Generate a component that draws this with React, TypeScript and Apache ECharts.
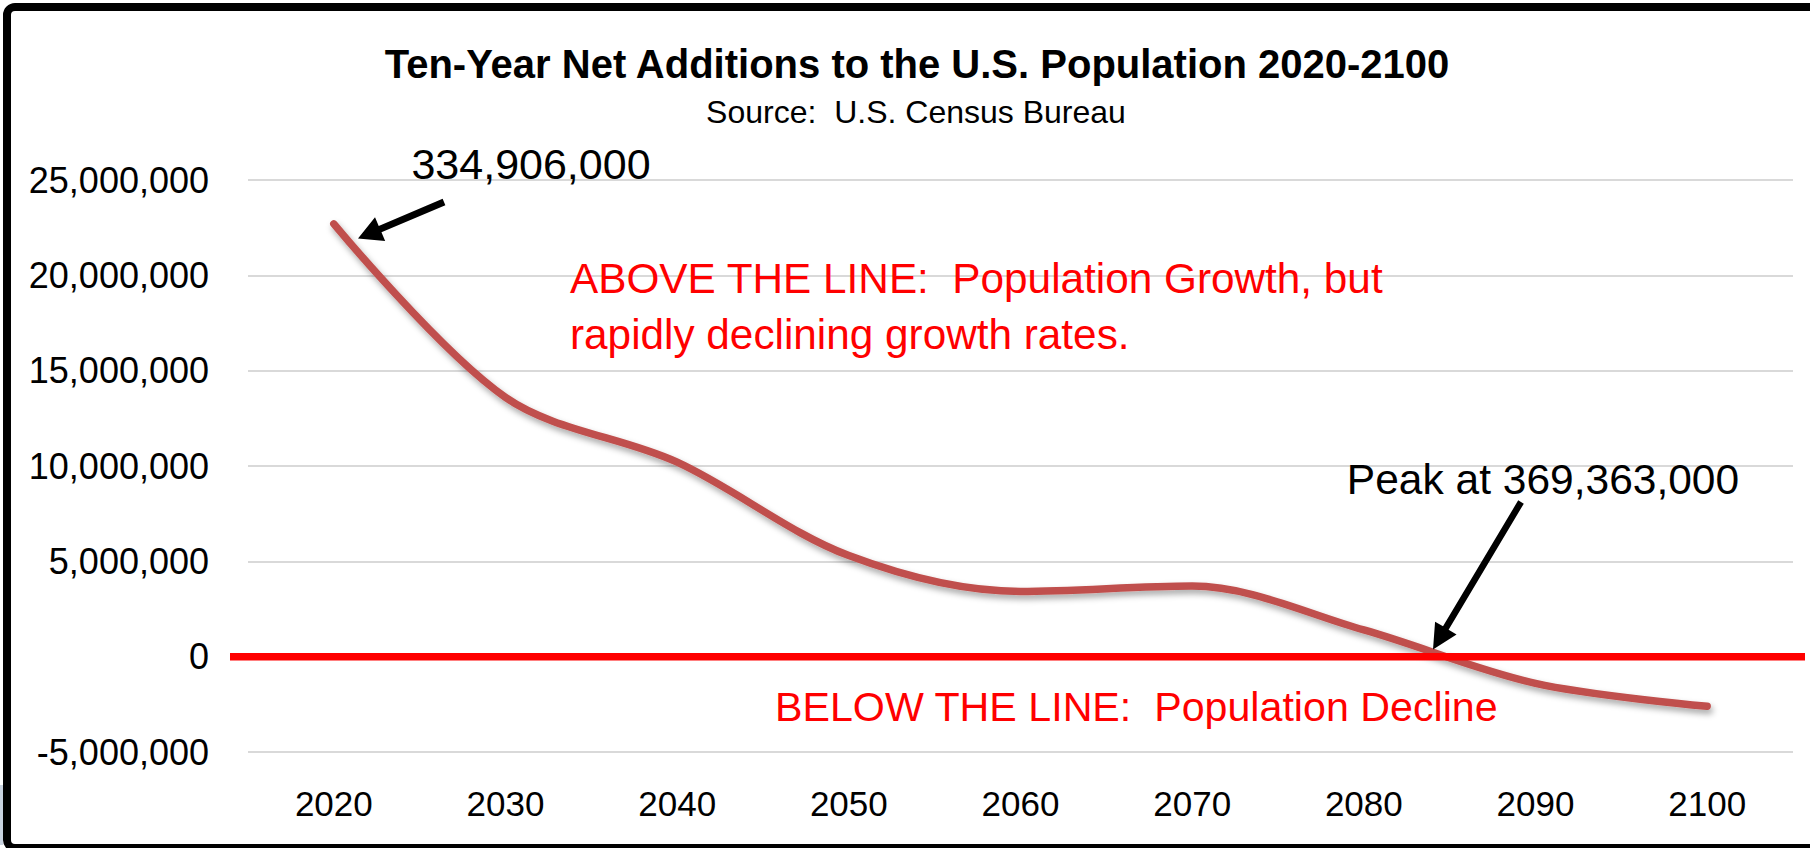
import React, { useEffect, useRef } from "react";
import * as echarts from "echarts";

// ---- Data ----
const years = ["2020", "2030", "2040", "2050", "2060", "2070", "2080", "2090", "2100"];
const netAdditions = [22700000, 13600000, 10200000, 5300000, 3420000, 3700000, 1400000, -1400000, -2600000];
const yMin = -5000000;
const yMax = 25000000;
const yInterval = 5000000;

const titleText = "Ten-Year Net Additions to the U.S. Population 2020-2100";
const subtitleText = "Source:  U.S. Census Bureau";
const startLabel = "334,906,000";
const peakLabel = "Peak at 369,363,000";
const aboveLines = ["ABOVE THE LINE:  Population Growth, but", "rapidly declining growth rates."];
const belowText = "BELOW THE LINE:  Population Decline";

const FONT = '"Liberation Sans", Arial, sans-serif';

function arrowPoints(tail: number[], tip: number[], shaftW: number, headL: number, headW: number) {
  const dx = tip[0] - tail[0];
  const dy = tip[1] - tail[1];
  const len = Math.sqrt(dx * dx + dy * dy);
  const ux = dx / len, uy = dy / len;
  const nx = -uy, ny = ux;
  const bx = tip[0] - ux * headL, by = tip[1] - uy * headL;
  return [
    [tail[0] + nx * shaftW / 2, tail[1] + ny * shaftW / 2],
    [bx + nx * shaftW / 2, by + ny * shaftW / 2],
    [bx + nx * headW / 2, by + ny * headW / 2],
    [tip[0], tip[1]],
    [bx - nx * headW / 2, by - ny * headW / 2],
    [bx - nx * shaftW / 2, by - ny * shaftW / 2],
    [tail[0] - nx * shaftW / 2, tail[1] - ny * shaftW / 2],
  ];
}

function txt(id: string, text: string, x: number, y: number, size: number, color: string, align: string, bold = false) {
  return {
    id,
    type: "text",
    z: 30,
    style: {
      text,
      x,
      y,
      fill: color,
      fontSize: size,
      fontFamily: FONT,
      fontWeight: bold ? "bold" : "normal",
      align,
      verticalAlign: "middle",
      textAlign: align,
      textVerticalAlign: "middle",
    },
  };
}

export default function App() {
  const ref = useRef<HTMLDivElement>(null);
  useEffect(() => {
    const chart = echarts.init(ref.current!, null, { renderer: "svg" });
    chart.setOption({
      animation: false,
      backgroundColor: "#ffffff",
      grid: { left: 248, right: 17, top: 180, bottom: 96, containLabel: false },
      xAxis: {
        type: "category",
        data: years,
        boundaryGap: true,
        axisLine: { show: false },
        axisTick: { show: false },
        splitLine: { show: false },
        axisLabel: { color: "#000", fontSize: 35, fontFamily: FONT, margin: 34 },
      },
      yAxis: {
        type: "value",
        min: yMin,
        max: yMax,
        interval: yInterval,
        axisLine: { show: false },
        axisTick: { show: false },
        splitLine: { show: true, lineStyle: { color: "#d9d9d9", width: 2 } },
        axisLabel: {
          color: "#000",
          fontSize: 36,
          fontFamily: FONT,
          margin: 39,
          formatter: (v: number) => v.toLocaleString("en-US"),
        },
      },
      series: [
        {
          type: "line",
          data: netAdditions,
          smooth: 0.33,
          symbol: "none",
          z: 2,
          lineStyle: {
            color: "#C0504D",
            width: 7.5,
            cap: "round",
            shadowColor: "rgba(0,0,0,0.35)",
            shadowBlur: 6,
            shadowOffsetX: 2,
            shadowOffsetY: 4,
          },
        },
      ],
    });

    const y0 = chart.convertToPixel({ yAxisIndex: 0 }, 0) as number;
    const xFirst = chart.convertToPixel({ xAxisIndex: 0 }, years[0]) as number;
    const xLast = chart.convertToPixel({ xAxisIndex: 0 }, years[years.length - 1]) as number;
    const band = (xLast - xFirst) / (years.length - 1);
    const gridLeft = xFirst - band / 2;
    const gridRight = xLast + band / 2;

    chart.setOption({
      graphic: [
        {
          id: "frame",
          type: "rect",
          z: 40,
          shape: { x: 7, y: 7, width: 1900, height: 841, r: 8 },
          style: { fill: "none", stroke: "#000", lineWidth: 8 },
        },
        {
          id: "edge",
          type: "rect",
          z: 40,
          shape: { x: 0, y: 785, width: 3, height: 60 },
          style: { fill: "#c9d3e0" },
        },
        {
          id: "zeroLine",
          type: "line",
          z: 10,
          shape: { x1: gridLeft - 18, y1: y0, x2: gridRight + 12, y2: y0 },
          style: { stroke: "#ff0000", lineWidth: 7.5 },
        },
        {
          id: "arrow1",
          type: "polygon",
          z: 20,
          shape: { points: arrowPoints([444, 202], [358, 238.5], 7, 24, 26) },
          style: { fill: "#000" },
        },
        {
          id: "arrow2",
          type: "polygon",
          z: 20,
          shape: { points: arrowPoints([1521, 502], [1433, 649.5], 6.5, 25, 25) },
          style: { fill: "#000" },
        },
        txt("title", titleText, 917, 64, 40, "#000", "center", true),
        txt("subtitle", subtitleText, 916, 112, 32, "#000", "center"),
        txt("startLbl", startLabel, 531, 164, 43, "#000", "center"),
        txt("peakLbl", peakLabel, 1543, 479, 42.5, "#000", "center"),
        txt("above1", aboveLines[0], 570, 278, 42.3, "#ff0000", "left"),
        txt("above2", aboveLines[1], 570, 334, 42.3, "#ff0000", "left"),
        txt("below", belowText, 775, 707, 41.2, "#ff0000", "left"),
      ],
    });

    return () => chart.dispose();
  }, []);
  return <div ref={ref} style={{ position: "absolute", left: 0, top: 0, width: 1810, height: 848 }} />;
}
